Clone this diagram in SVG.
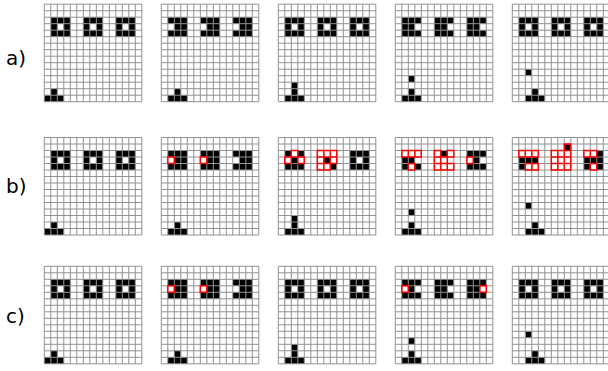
<svg xmlns="http://www.w3.org/2000/svg" xmlns:xlink="http://www.w3.org/1999/xlink" width="608" height="371" viewBox="0 0 608 371">
<style>
.lbl{font-family:"DejaVu Sans","Liberation Sans",sans-serif;font-size:20px;fill:#000}
.k{fill:#000}
.ev{fill:#000;fill-rule:evenodd}
.grid{fill:none;stroke:#929292;stroke-width:1}
.err{fill:none;stroke:#ff0000;stroke-width:1.5}
</style>
<defs>
<path id="grid" class="grid" d="M0 0V97.5M6.5 0V97.5M13 0V97.5M19.5 0V97.5M26 0V97.5M32.5 0V97.5M39 0V97.5M45.5 0V97.5M52 0V97.5M58.5 0V97.5M65 0V97.5M71.5 0V97.5M78 0V97.5M84.5 0V97.5M91 0V97.5M97.5 0V97.5M0 0H97.5M0 6.5H97.5M0 13H97.5M0 19.5H97.5M0 26H97.5M0 32.5H97.5M0 39H97.5M0 45.5H97.5M0 52H97.5M0 58.5H97.5M0 65H97.5M0 71.5H97.5M0 78H97.5M0 84.5H97.5M0 91H97.5M0 97.5H97.5"/>
<path id="ring" class="ev" d="M0 0h19.5v19.5H0zM6.5 6.5h6.5v6.5H6.5z"/>
<path id="notchL" class="ev" d="M0 0h19.5v19.5H0zM0 6.5h6.5v6.5H0z"/>
<path id="notchR" class="ev" d="M0 0h19.5v19.5H0zM13 6.5h6.5v6.5H13z"/>
<path id="g1" class="k" d="M0 91h19.5v6.5H0zM6.5 84.5h6.5v6.5H6.5z"/>
<path id="g2" class="k" d="M6.5 91h19.5v6.5H6.5zM13 84.5h6.5v6.5H13z"/>
<path id="g3" class="k" d="M6.5 91h19.5v6.5H6.5zM13 84.5h6.5v6.5H13zM13 78h6.5v6.5H13z"/>
<path id="g4" class="k" d="M6.5 91h19.5v6.5H6.5zM13 84.5h6.5v6.5H13zM13 71.5h6.5v6.5H13z"/>
<path id="g5" class="k" d="M13 91h19.5v6.5H13zM19.5 84.5h6.5v6.5h-6.5zM13 65h6.5v6.5H13z"/>
<g id="rings3"><use xlink:href="#ring" x="6.5" y="13"/><use xlink:href="#ring" x="39" y="13"/><use xlink:href="#ring" x="71.5" y="13"/></g>
<g id="notchL3"><use xlink:href="#notchL" x="6.5" y="13"/><use xlink:href="#notchL" x="39" y="13"/><use xlink:href="#notchL" x="71.5" y="13"/></g>
<g id="notchR3"><use xlink:href="#notchR" x="6.5" y="13"/><use xlink:href="#notchR" x="39" y="13"/><use xlink:href="#notchR" x="71.5" y="13"/></g>
</defs>
<rect width="608" height="371" fill="#fff"/>

<text class="lbl" x="6" y="65">a)</text>
<text class="lbl" x="6" y="193">b)</text>
<text class="lbl" x="6" y="323">c)</text>

<!-- row a -->
<g id="a1" transform="translate(44.3,4.2)"><use xlink:href="#rings3"/><use xlink:href="#g1"/><use xlink:href="#grid"/></g>
<g id="a2" transform="translate(161.3,4.2)"><use xlink:href="#notchL3"/><use xlink:href="#g2"/><use xlink:href="#grid"/></g>
<g id="a3" transform="translate(278.3,4.2)"><use xlink:href="#rings3"/><use xlink:href="#g3"/><use xlink:href="#grid"/></g>
<g id="a4" transform="translate(395.3,4.2)"><use xlink:href="#notchR3"/><use xlink:href="#g4"/><use xlink:href="#grid"/></g>
<g id="a5" transform="translate(512.3,4.2)"><use xlink:href="#rings3"/><use xlink:href="#g5"/><use xlink:href="#grid"/></g>

<!-- row b -->
<g id="b1" transform="translate(44.3,137.5)"><use xlink:href="#rings3"/><use xlink:href="#g1"/><use xlink:href="#grid"/></g>
<g id="b2" transform="translate(161.3,137.5)"><use xlink:href="#notchL3"/><use xlink:href="#g2"/><use xlink:href="#grid"/>
<rect class="err" x="6.5" y="19.5" width="6.5" height="6.5"/><rect class="err" x="39" y="19.5" width="6.5" height="6.5"/></g>
<g id="b3" transform="translate(278.3,137.5)">
<path class="k" d="M6.5 13h6.5v6.5H6.5zM19.5 13h6.5v6.5h-6.5zM13 19.5h6.5v6.5H13zM6.5 26h19.5v6.5H6.5zM45.5 19.5h6.5v6.5h-6.5zM52 26h6.5v6.5H52z"/>
<use xlink:href="#ring" x="71.5" y="13"/><use xlink:href="#g3"/><use xlink:href="#grid"/>
<path class="err" d="M13 13h6.5v6.5H13zM6.5 19.5h6.5v6.5H6.5zM19.5 19.5h6.5v6.5h-6.5zM39 13h6.5v6.5H39zM45.5 13h6.5v6.5h-6.5zM52 13h6.5v6.5H52zM39 19.5h6.5v6.5H39zM52 19.5h6.5v6.5H52zM39 26h6.5v6.5H39zM45.5 26h6.5v6.5h-6.5z"/></g>
<g id="b4" transform="translate(395.3,137.5)">
<path class="k" d="M6.5 19.5h13v6.5h-13zM6.5 26h6.5v6.5H6.5zM19.5 26h6.5v6.5h-6.5zM45.5 13h6.5v6.5h-6.5zM71.5 13h19.5v6.5H71.5zM78 19.5h6.5v6.5H78zM71.5 26h19.5v6.5H71.5z"/>
<use xlink:href="#g4"/><use xlink:href="#grid"/>
<path class="err" d="M6.5 13h6.5v6.5H6.5zM13 13h6.5v6.5H13zM19.5 13h6.5v6.5h-6.5zM13 26h6.5v6.5H13zM39 13h6.5v6.5H39zM52 13h6.5v6.5H52zM39 19.5h6.5v6.5H39zM45.5 19.5h6.5v6.5h-6.5zM39 26h6.5v6.5H39zM45.5 26h6.5v6.5h-6.5zM52 26h6.5v6.5H52zM71.5 19.5h6.5v6.5h-6.5z"/></g>
<g id="b5" transform="translate(512.3,137.5)">
<path class="k" d="M6.5 19.5h19.5v6.5H6.5zM6.5 26h6.5v6.5H6.5zM52 6.5h6.5v6.5H52zM84.5 13h6.5v6.5h-6.5zM71.5 19.5h19.5v6.5H71.5zM71.5 26h6.5v6.5h-6.5zM84.5 26h6.5v6.5h-6.5z"/>
<use xlink:href="#g5"/><use xlink:href="#grid"/>
<path class="err" d="M6.5 13h6.5v6.5H6.5zM13 13h6.5v6.5H13zM19.5 13h6.5v6.5h-6.5zM13 26h6.5v6.5H13zM19.5 26h6.5v6.5h-6.5zM39 13h6.5v6.5H39zM45.5 13h6.5v6.5h-6.5zM52 13h6.5v6.5H52zM39 19.5h6.5v6.5H39zM52 19.5h6.5v6.5H52zM39 26h6.5v6.5H39zM45.5 26h6.5v6.5h-6.5zM52 26h6.5v6.5H52zM52 6.5h6.5v6.5H52zM71.5 13h6.5v6.5h-6.5zM78 13h6.5v6.5H78zM78 26h6.5v6.5H78z"/></g>

<!-- row c -->
<g id="c1" transform="translate(44.3,266.3)"><use xlink:href="#rings3"/><use xlink:href="#g1"/><use xlink:href="#grid"/></g>
<g id="c2" transform="translate(161.3,266.3)"><use xlink:href="#notchL3"/><use xlink:href="#g2"/><use xlink:href="#grid"/>
<rect class="err" x="6.5" y="19.5" width="6.5" height="6.5"/><rect class="err" x="39" y="19.5" width="6.5" height="6.5"/></g>
<g id="c3" transform="translate(278.3,266.3)"><use xlink:href="#rings3"/><use xlink:href="#g3"/><use xlink:href="#grid"/></g>
<g id="c4" transform="translate(395.3,266.3)">
<path class="k" d="M6.5 13h19.5v6.5H6.5zM13 19.5h6.5v6.5H13zM6.5 26h19.5v6.5H6.5z"/>
<use xlink:href="#notchR" x="39" y="13"/><use xlink:href="#notchR" x="71.5" y="13"/>
<use xlink:href="#g4"/><use xlink:href="#grid"/>
<rect class="err" x="6.5" y="19.5" width="6.5" height="6.5"/><rect class="err" x="84.5" y="19.5" width="6.5" height="6.5"/></g>
<g id="c5" transform="translate(512.3,266.3)"><use xlink:href="#rings3"/><use xlink:href="#g5"/><use xlink:href="#grid"/></g>
</svg>
